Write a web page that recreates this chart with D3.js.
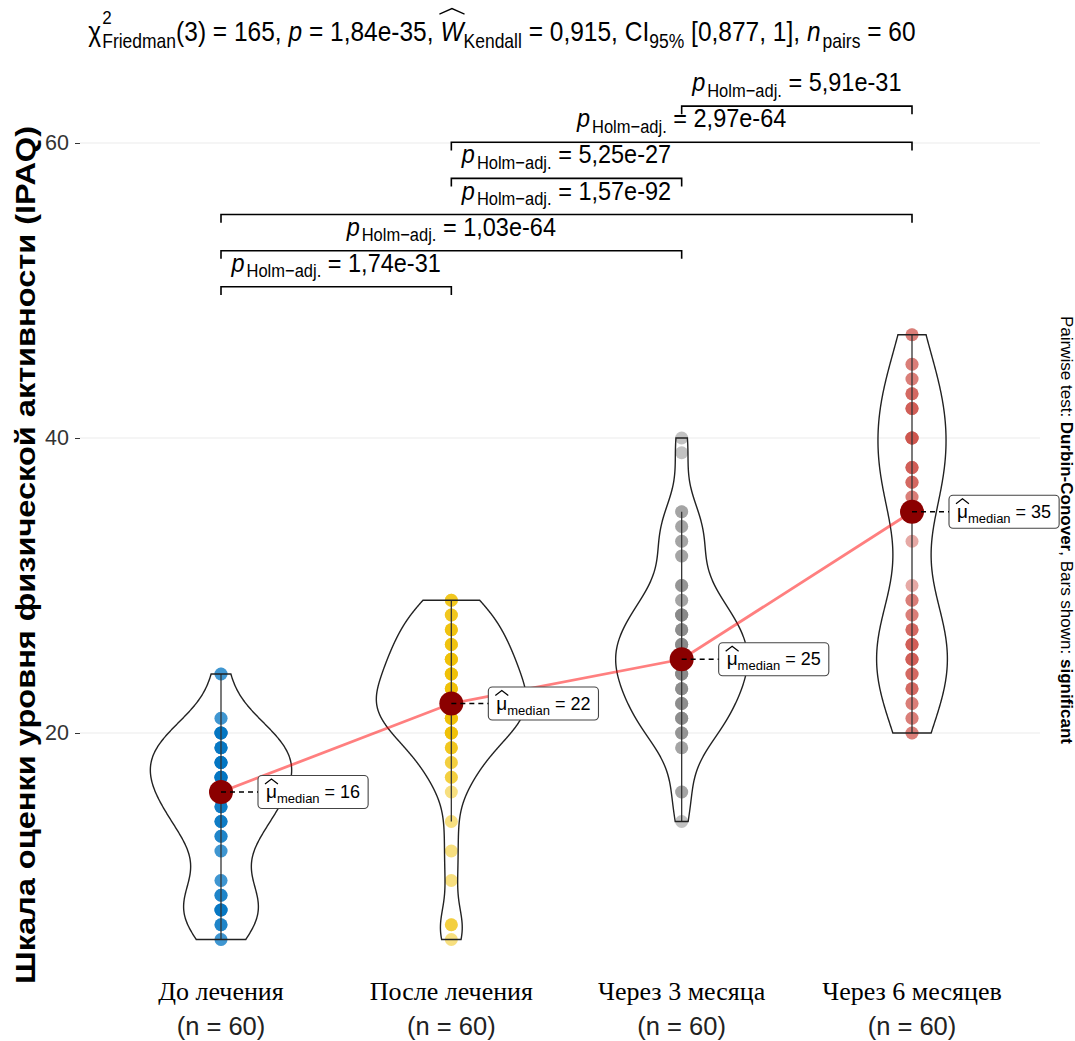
<!DOCTYPE html>
<html>
<head>
<meta charset="utf-8">
<script src="https://cdn.jsdelivr.net/npm/d3@7"></script>
<style>
  body { margin: 0; background: #fff; }
  svg { display: block; }
  text { white-space: pre; }
</style>
</head>
<body>
<svg id="chart" width="1075" height="1041"></svg>
<script>
// ---- data -------------------------------------------------------------
const categories = ["До лечения", "После лечения", "Через 3 месяца", "Через 6 месяцев"];
const sampleSizes = [60, 60, 60, 60];

// IPAQ scores as [score, number of patients]
const scoresBefore = [[6,2],[7,3],[8,5],[9,3],[10,2],[12,2],[13,3],[14,4],[15,4],[16,5],
                      [17,6],[18,6],[19,5],[20,6],[21,2],[24,2]];
const scoresAfter = [[6,1],[7,2],[10,1],[12,1],[14,1],[16,1],[17,2],[18,2],[19,3],[20,5],
                     [21,5],[22,7],[23,5],[24,5],[25,5],[26,4],[27,4],[28,3],[29,3]];
const scores3m = [[14,1],[16,2],[19,2],[20,3],[21,4],[22,4],[23,4],[24,5],[25,6],[26,5],
                  [27,4],[28,5],[29,2],[30,3],[32,2],[33,2],[34,2],[35,2],[39,1],[40,1]];
const scores6m = [[20,2],[21,2],[22,2],[23,3],[24,3],[25,4],[26,4],[27,3],[28,2],[29,2],
                  [30,1],[33,1],[35,3],[36,2],[37,3],[38,4],[40,6],[42,4],[43,3],[44,2],
                  [45,2],[47,2]];

// pairwise Durbin-Conover comparisons (group indices) and Holm-adjusted p values
const pairsFrom = [0, 0, 0, 1, 1, 2];
const pairsTo   = [1, 2, 3, 2, 3, 3];
const pairsP    = ["1,74e-31", "1,03e-64", "1,57e-92", "5,25e-27", "2,97e-64", "5,91e-31"];

const yTicks = [20, 40, 60];
const colors = ["#0073C2", "#EFC000", "#868686", "#CD534C"];

// ---- setup ------------------------------------------------------------
const FONT = "'Liberation Sans', Arial, Helvetica, sans-serif";
const svg = d3.select("#chart").attr("font-family", FONT);

const groups = [scoresBefore, scoresAfter, scores3m, scores6m].map(tbl =>
  tbl.flatMap(([v, c]) => Array(c).fill(v)).sort((a, b) => a - b));

const x = d3.scalePoint().domain(categories).range([221, 912]);
const y = d3.scaleLinear().domain([20, 60]).range([733, 143]);

// lays out a run of text pieces (sub/superscripts, hats) left to right
function rich(parent, parts, px, py, anchor, sy) {
  const outer = parent.append("g");
  const g = outer.append("g");
  let cx = 0;
  parts.forEach(p => {
    const t = g.append("text")
      .attr("x", cx).attr("y", p.dy || 0)
      .attr("font-size", p.size)
      .attr("font-style", p.italic ? "italic" : null)
      .attr("font-weight", p.bold ? "bold" : null)
      .attr("fill", p.fill || "#000")
      .text(p.text);
    let w = t.node().getComputedTextLength();
    if (p.sup) {
      const s = g.append("text").attr("x", cx).attr("y", p.supDy)
        .attr("font-size", p.supSize).text(p.sup);
      w = Math.max(w, s.node().getComputedTextLength());
    }
    if (p.hat) {
      const top = p.hatY;
      g.append("path")
        .attr("d", `M${cx - 1},${top + 5}L${cx + w / 2},${top}L${cx + w + 1},${top + 5}`)
        .attr("fill", "none").attr("stroke", "#000").attr("stroke-width", 1.2);
    }
    cx += w + (p.gap || 0);
  });
  const off = anchor === "middle" ? -cx / 2 : anchor === "end" ? -cx : 0;
  outer.attr("transform", `translate(${px},${py}) scale(1,${sy || 1})`);
  g.attr("transform", `translate(${off},0)`);
  return { g: outer, width: cx };
}

// ---- grid & y axis ----------------------------------------------------
svg.append("g").selectAll("line").data(yTicks).join("line")
  .attr("x1", 80).attr("x2", 1040)
  .attr("y1", d => y(d)).attr("y2", d => y(d))
  .attr("stroke", "#ebebeb").attr("stroke-width", 1.2);

const yAxis = svg.append("g").attr("transform", "translate(80,0)")
  .call(d3.axisLeft(y).tickValues(yTicks).tickSize(5).tickPadding(6));
yAxis.select(".domain").remove();
yAxis.selectAll(".tick line").attr("stroke", "#333");
yAxis.selectAll(".tick text").attr("font-family", FONT).attr("font-size", 21.5).attr("fill", "#333");

svg.append("text")
  .attr("transform", "translate(35,555) rotate(-90)")
  .attr("text-anchor", "middle")
  .attr("font-size", 28).attr("font-weight", "bold")
  .attr("textLength", 858).attr("lengthAdjust", "spacingAndGlyphs")
  .text("Шкала оценки уровня физической активности (IPAQ)");

// ---- points -----------------------------------------------------------
groups.forEach((vals, i) => {
  svg.append("g").selectAll("circle").data(vals).join("circle")
    .attr("cx", x(categories[i])).attr("cy", d => y(d)).attr("r", 6.5)
    .attr("fill", colors[i]).attr("fill-opacity", 0.5);
});

// ---- whisker lines (boxplot of zero width) ----------------------------
groups.forEach((vals, i) => {
  const q1 = d3.quantile(vals, 0.25), q3 = d3.quantile(vals, 0.75), iqr = q3 - q1;
  const lo = d3.min(vals.filter(v => v >= q1 - 1.5 * iqr));
  const hi = d3.max(vals.filter(v => v <= q3 + 1.5 * iqr));
  svg.append("line")
    .attr("x1", x(categories[i])).attr("x2", x(categories[i]))
    .attr("y1", y(lo)).attr("y2", y(hi))
    .attr("stroke", "#333").attr("stroke-width", 1.3);
});

// ---- violins (gaussian KDE, nrd0 bandwidth, area scaling) -------------
function kde(vals) {
  const n = vals.length;
  const sd = d3.deviation(vals);
  const iqr = d3.quantile(vals, 0.75) - d3.quantile(vals, 0.25);
  const bw = 0.9 * Math.min(sd, iqr / 1.34) * Math.pow(n, -0.2);
  const lo = d3.min(vals), hi = d3.max(vals);
  return d3.range(512).map(k => {
    const v = lo + (hi - lo) * k / 511;
    const dens = d3.mean(vals, xi => Math.exp(-0.5 * ((v - xi) / bw) ** 2)) / (bw * Math.sqrt(2 * Math.PI));
    return { v, dens };
  });
}
const densities = groups.map(kde);
const maxDens = d3.max(densities, ds => d3.max(ds, d => d.dens));
const halfW = d3.scaleLinear().domain([0, maxDens]).range([0, 75]);

densities.forEach((ds, i) => {
  const cx = x(categories[i]);
  const area = d3.area()
    .x0(d => cx - halfW(d.dens)).x1(d => cx + halfW(d.dens))
    .y(d => y(d.v));
  svg.append("path").attr("d", area(ds))
    .attr("fill", "none").attr("stroke", "#222").attr("stroke-width", 1.4);
});

// ---- medians ----------------------------------------------------------
const medians = groups.map(vals => d3.median(vals));
svg.append("path")
  .attr("d", d3.line().x((d, i) => x(categories[i])).y(d => y(d))(medians))
  .attr("fill", "none").attr("stroke", "#FF0000").attr("stroke-opacity", 0.5)
  .attr("stroke-width", 2.8);

svg.append("g").selectAll("circle").data(medians).join("circle")
  .attr("cx", (d, i) => x(categories[i])).attr("cy", d => y(d)).attr("r", 12)
  .attr("fill", "#8B0000");

medians.forEach((m, i) => {
  const cx = x(categories[i]), cy = y(m);
  const bx = cx + 37;
  const g = svg.append("g");
  const rect = g.append("rect");
  const lab = rich(g, [
    { text: "μ", size: 19, hat: true, hatY: -19 },
    { text: "median", size: 13, dy: 5 },
    { text: " = " + m, size: 18 }
  ], bx + 8, cy + 6, "start");
  rect.attr("x", bx).attr("y", cy - 16.5).attr("width", lab.width + 16).attr("height", 33)
    .attr("rx", 4).attr("fill", "#fff").attr("stroke", "#444").attr("stroke-width", 1.1);
  svg.append("line").attr("x1", cx).attr("x2", bx).attr("y1", cy).attr("y2", cy)
    .attr("stroke", "#000").attr("stroke-width", 1.5).attr("stroke-dasharray", "5,4");
});

// ---- significance brackets -------------------------------------------
const bracketBase = 50.25, bracketStep = 2.45, tip = 0.55;
pairsFrom.forEach((a, k) => {
  const lvl = bracketBase + k * bracketStep;
  const x1 = x(categories[a]), x2 = x(categories[pairsTo[k]]);
  svg.append("path")
    .attr("d", `M${x1},${y(lvl - tip)}V${y(lvl)}H${x2}V${y(lvl - tip)}`)
    .attr("fill", "none").attr("stroke", "#000").attr("stroke-width", 1.6);
  rich(svg, [
    { text: "p", size: 23.5, italic: true, gap: 2 },
    { text: "Holm−adj.", size: 16.5, dy: 5 },
    { text: " = " + pairsP[k], size: 23.5 }
  ], (x1 + x2) / 2, y(lvl) - 15, "middle", 1.1);
});

// ---- title ------------------------------------------------------------
rich(svg, [
  { text: "χ", size: 24.5, gap: 1 },
  { text: "Friedman", size: 17.5, dy: 6, sup: "2", supDy: -15, supSize: 17 },
  { text: "(3) = 165, ", size: 24.5 },
  { text: "p", size: 24.5, italic: true },
  { text: " = 1,84e-35, ", size: 24.5 },
  { text: "W", size: 24.5, italic: true, hat: true, hatY: -29 },
  { text: "Kendall", size: 17.5, dy: 6 },
  { text: " = 0,915, CI", size: 24.5 },
  { text: "95%", size: 17.5, dy: 6 },
  { text: " [0,877, 1], ", size: 24.5 },
  { text: "n", size: 24.5, italic: true, gap: 2 },
  { text: "pairs", size: 17.5, dy: 6 },
  { text: " = 60", size: 24.5 }
], 502, 41, "middle", 1.12);

// ---- x axis labels ----------------------------------------------------
categories.forEach((c, i) => {
  svg.append("text").attr("x", x(c)).attr("y", 1000)
    .attr("text-anchor", "middle")
    .attr("font-family", "'Liberation Serif', 'DejaVu Serif', serif")
    .attr("font-size", 26).text(c);
  svg.append("text").attr("x", x(c)).attr("y", 1035)
    .attr("text-anchor", "middle").attr("font-size", 25.5).attr("fill", "#222")
    .text(`(n = ${sampleSizes[i]})`);
});

// ---- caption ----------------------------------------------------------
const cap = svg.append("text")
  .attr("transform", "translate(1061,530) rotate(90)")
  .attr("text-anchor", "middle").attr("font-size", 17);
cap.append("tspan").text("Pairwise test: ");
cap.append("tspan").attr("font-weight", "bold").text("Durbin-Conover");
cap.append("tspan").text(", Bars shown: ");
cap.append("tspan").attr("font-weight", "bold").text("significant");
</script>
</body>
</html>
